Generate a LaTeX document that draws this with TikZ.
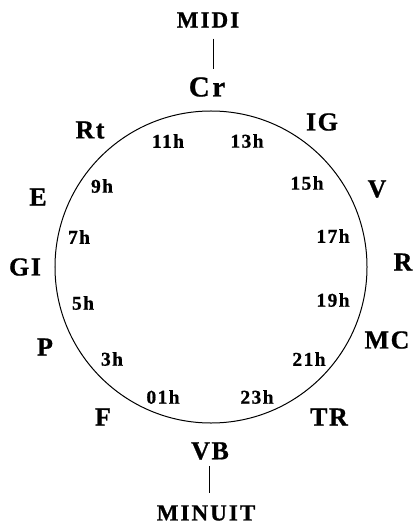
\documentclass[tikz,border=0pt]{standalone}
\usepackage{fontspec}
\setmainfont{Liberation Serif}
\newfontfamily\labfont{Liberation Serif}[BoldFont={Liberation Serif Bold}, BoldFeatures={FakeBold=0.8}, LetterSpace=6]
\newfontfamily\bigfont{Liberation Serif}[BoldFont={Liberation Serif Bold}, BoldFeatures={FakeBold=0.8}, LetterSpace=9]
\newfontfamily\hourfont{Liberation Serif}[BoldFont={Liberation Serif Bold}, BoldFeatures={FakeBold=0.8}, LetterSpace=7]
\tikzset{
  lab/.style={inner sep=0pt, font=\labfont\bfseries\fontsize{26bp}{26bp}\selectfont},
  big/.style={inner sep=0pt, font=\bigfont\bfseries\fontsize{23bp}{23bp}\selectfont},
  crlab/.style={inner sep=0pt, font=\bigfont\bfseries\fontsize{29bp}{29bp}\selectfont},
  hour/.style={inner sep=0pt, font=\hourfont\bfseries\fontsize{19.5bp}{19.5bp}\selectfont},
  conn/.style={line width=0.9bp}
}
\begin{document}
\begin{tikzpicture}[x=1bp,y=-1bp]
\useasboundingbox (0,0) rectangle (414,524);
\draw[line width=1bp] (211,267) circle[radius=156bp];
% outer labels
\node[big] (midi) at (208,20) {MIDI};
\node[crlab] (cr) at (207,87) {Cr};
\node[lab] (ig) at (322,122) {IG};
\node[lab] (rt) at (90,130) {Rt};
\node[lab] (e) at (38,197) {E};
\node[lab] (gi) at (25,267) {GI};
\node[lab] (p) at (45,347) {P};
\node[lab] (f) at (103,417) {F};
\node[lab] (v) at (377,189) {V};
\node[lab] (r) at (403,262) {R};
\node[lab] (mc) at (387,340) {MC};
\node[lab] (tr) at (329,417) {TR};
\node[lab] (vb) at (210,451) {VB};
\node[big] (minuit) at (206,513) {MINUIT};
% hours
\node[hour] (h11) at (168,141) {11h};
\node[hour] (h13) at (247,141) {13h};
\node[hour] (h9) at (102,186) {9h};
\node[hour] (h15) at (307,183) {15h};
\node[hour] (h7) at (79,237) {7h};
\node[hour] (h17) at (333,236) {17h};
\node[hour] (h5) at (83,303) {5h};
\node[hour] (h19) at (333,300) {19h};
\node[hour] (h3) at (112,359) {3h};
\node[hour] (h21) at (309,359) {21h};
\node[hour] (h01) at (163,397) {01h};
\node[hour] (h23) at (257,397) {23h};
% connectors
\coordinate (lt) at (213,0);
\coordinate (lb) at (209,0);
\draw[conn, shorten <=11bp, shorten >=8bp] (midi.south -| lt) -- (cr.north -| lt);
\draw[conn, shorten <=6bp, shorten >=12bp] (vb.south -| lb) -- (minuit.north -| lb);
\end{tikzpicture}
\end{document}
